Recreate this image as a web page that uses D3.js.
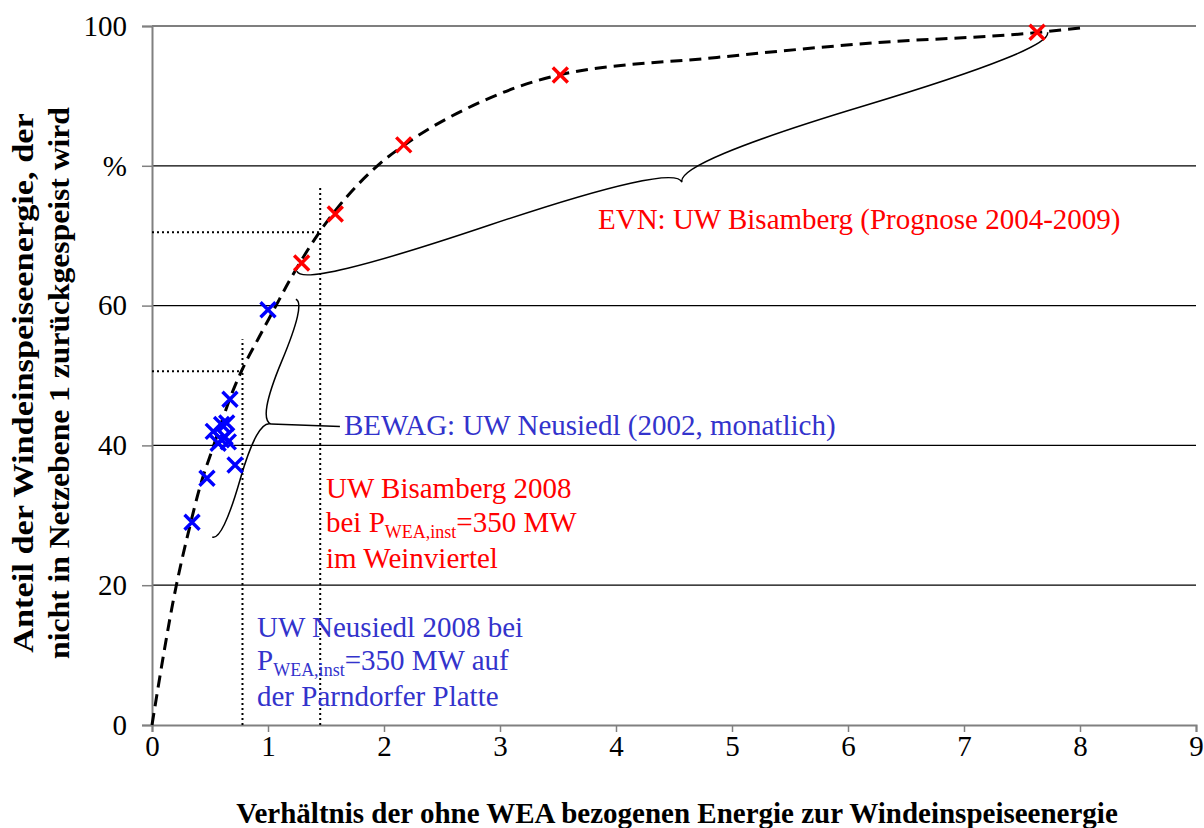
<!DOCTYPE html>
<html>
<head>
<meta charset="utf-8">
<script src="https://cdn.jsdelivr.net/npm/d3@7"></script>
<style>
  html, body { margin: 0; padding: 0; background: #fff; }
  svg { display: block; font-family: "Liberation Serif", "Times New Roman", serif; }
</style>
</head>
<body>
<svg id="chart" width="1204" height="828"></svg>
<script>
// ---------- data ----------
const xTicks = [0, 1, 2, 3, 4, 5, 6, 7, 8, 9];
const yTicks = [0, 20, 40, 60, 80, 100];
const yTickLabels = ["0", "20", "40", "60", "%", "100"];

// BEWAG: UW Neusiedl (2002, monthly)
const bewagX = [0.345, 0.474, 0.716, 0.57, 0.60, 0.658, 0.528, 0.63, 0.644, 0.60, 0.672, 1.00];
const bewagY = [29.0, 35.3, 37.2, 40.3, 40.8, 40.5, 42.0, 41.2, 43.2, 43.0, 46.6, 59.4];

// EVN: UW Bisamberg (Prognose 2004-2009)
const evnX = [1.29, 1.58, 2.17, 3.52, 7.63];
const evnY = [66.1, 73.1, 83.0, 93.0, 99.1];

// dashed trend curve
const curveX = [0, 0.21, 0.32, 0.414, 0.528, 0.70, 0.773, 0.917, 1.05, 1.19, 1.435, 1.95, 2.195, 2.83, 3.51, 4.87, 6.23, 7.59, 8.04];
const curveY = [0, 20, 28, 34.1, 39.8, 47.9, 50.7, 55.3, 59.4, 63.7, 70.3, 80.1, 83.2, 89.1, 93.0, 95.5, 97.6, 99.0, 99.8];

// 2008 reading guides (x ratio, y share, top of vertical guide)
const guideBisamberg = { x: 1.45, y: 70.5, top: 77.0 };
const guideNeusiedl = { x: 0.78, y: 50.6, top: 55.2 };

// brace anchors (data coords)
const evnBrace = { a: [1.25, 64.9], b: [7.72, 99.1] };
const bewagBrace = { a: [0.52, 26.9], b: [1.24, 60.9] };
const bewagLink = [1.62, 42.7];

// ---------- layout ----------
const svg = d3.select("#chart");
const M = { left: 152, right: 1196, top: 26, bottom: 725 };
const x = d3.scaleLinear().domain([0, 9]).range([M.left, M.right]);
const y = d3.scaleLinear().domain([0, 100]).range([M.bottom, M.top]);

const FS = 29;
const red = "#ff0000";
const blueText = "#3333cc";

// gridlines
svg.append("g")
  .selectAll("line")
  .data(yTicks.filter(d => d > 0))
  .join("line")
  .attr("x1", x(0)).attr("x2", x(9))
  .attr("y1", d => y(d)).attr("y2", d => y(d))
  .attr("stroke", "#000").attr("stroke-width", 1.2);

// axes
const yAxis = d3.axisLeft(y).tickValues(yTicks)
  .tickFormat((d, i) => yTickLabels[i]).tickSize(10).tickPadding(15);
const gy = svg.append("g").attr("transform", `translate(${x(0)},0)`).call(yAxis);
gy.select(".domain").attr("stroke", "#808080").attr("stroke-width", 2);
gy.selectAll(".tick line").attr("stroke", "#808080").attr("stroke-width", 1.5);
gy.selectAll(".tick text").attr("font-size", FS).attr("font-family", "Liberation Serif").attr("fill", "#000");

const xAxis = d3.axisBottom(x).tickValues(xTicks).tickSize(7).tickPadding(3);
const gx = svg.append("g").attr("transform", `translate(0,${y(0)})`).call(xAxis);
gx.select(".domain").attr("stroke", "#808080").attr("stroke-width", 2);
gx.selectAll(".tick line").attr("stroke", "#808080").attr("stroke-width", 1.5);
gx.selectAll(".tick text").attr("font-size", FS).attr("font-family", "Liberation Serif").attr("fill", "#000");

// dotted guides
function guide(g) {
  svg.append("line")
    .attr("x1", x(0)).attr("x2", x(g.x)).attr("y1", y(g.y)).attr("y2", y(g.y))
    .attr("stroke", "#000").attr("stroke-width", 2).attr("stroke-dasharray", "2,3");
  svg.append("line")
    .attr("x1", x(g.x)).attr("x2", x(g.x)).attr("y1", y(0)).attr("y2", y(g.top))
    .attr("stroke", "#000").attr("stroke-width", 2).attr("stroke-dasharray", "2,3");
}
guide(guideBisamberg);
guide(guideNeusiedl);

// curly braces
function brace(x1, y1, x2, y2, w, q) {
  let dx = x1 - x2, dy = y1 - y2;
  const len = Math.sqrt(dx * dx + dy * dy);
  dx /= len; dy /= len;
  const qx1 = x1 + q * w * dy, qy1 = y1 - q * w * dx;
  const qx2 = (x1 - .25 * len * dx) + (1 - q) * w * dy, qy2 = (y1 - .25 * len * dy) - (1 - q) * w * dx;
  const tx = (x1 - .5 * len * dx) + w * dy, ty = (y1 - .5 * len * dy) - w * dx;
  const qx3 = x2 + q * w * dy, qy3 = y2 - q * w * dx;
  const qx4 = (x1 - .75 * len * dx) + (1 - q) * w * dy, qy4 = (y1 - .75 * len * dy) - (1 - q) * w * dx;
  return { d: `M${x1},${y1} Q${qx1},${qy1} ${qx2},${qy2} T${tx},${ty} M${x2},${y2} Q${qx3},${qy3} ${qx4},${qy4} T${tx},${ty}`, tip: [tx, ty] };
}
const b1 = brace(x(evnBrace.a[0]), y(evnBrace.a[1]), x(evnBrace.b[0]), y(evnBrace.b[1]), 32, 0.55);
svg.append("path").attr("d", b1.d).attr("fill", "none").attr("stroke", "#000").attr("stroke-width", 1.5);
const b2 = brace(x(bewagBrace.a[0]), y(bewagBrace.a[1]), x(bewagBrace.b[0]), y(bewagBrace.b[1]), 18, 0.6);
svg.append("path").attr("d", b2.d).attr("fill", "none").attr("stroke", "#000").attr("stroke-width", 1.5);
svg.append("line").attr("x1", b2.tip[0]).attr("y1", b2.tip[1])
  .attr("x2", x(bewagLink[0])).attr("y2", y(bewagLink[1])).attr("stroke", "#000").attr("stroke-width", 1.5);

// dashed curve
const line = d3.line().x(d => x(d[0])).y(d => y(d[1])).curve(d3.curveMonotoneX);
svg.append("path")
  .datum(curveX.map((v, i) => [v, curveY[i]]))
  .attr("d", line)
  .attr("fill", "none").attr("stroke", "#000").attr("stroke-width", 3)
  .attr("stroke-dasharray", "12,7");

// markers
function crosses(xs, ys, color) {
  const s = 7.5;
  svg.append("g").selectAll("path")
    .data(xs.map((v, i) => [v, ys[i]]))
    .join("path")
    .attr("d", d => {
      const cx = x(d[0]), cy = y(d[1]);
      return `M${cx - s},${cy - s}L${cx + s},${cy + s}M${cx - s},${cy + s}L${cx + s},${cy - s}`;
    })
    .attr("stroke", color).attr("stroke-width", 3.4).attr("fill", "none");
}
crosses(bewagX, bewagY, "#0000ff");
crosses(evnX, evnY, red);

// annotation labels
function label(px, py, color, pre, sub, post) {
  const t = svg.append("text").attr("x", px).attr("y", py).attr("fill", color).attr("font-size", FS);
  t.append("tspan").text(pre);
  if (sub) {
    t.append("tspan").attr("font-size", 18).attr("dy", 6).text(sub);
    t.append("tspan").attr("dy", -6).text(post);
  }
  return t;
}
label(598, 229, red, "EVN: UW Bisamberg (Prognose 2004-2009)");
label(344, 435, blueText, "BEWAG: UW Neusiedl (2002, monatlich)");

label(326, 498, red, "UW Bisamberg 2008");
label(326, 532, red, "bei P", "WEA,inst", "=350 MW");
label(326, 568, red, "im Weinviertel");

label(257, 637, blueText, "UW Neusiedl 2008 bei");
label(257, 670, blueText, "P", "WEA,inst", "=350 MW auf");
label(257, 706, blueText, "der Parndorfer Platte");

// axis titles
svg.append("text")
  .attr("x", 677).attr("y", 823).attr("text-anchor", "middle")
  .attr("font-size", FS).attr("font-weight", "bold")
  .text("Verhältnis der ohne WEA bezogenen Energie zur Windeinspeiseenergie");

const yTitleLines = ["Anteil der Windeinspeiseenergie, der", "nicht in Netzebene 1 zurückgespeist wird"];
const yTitleLen = [540, 552];
yTitleLines.forEach((s, i) => {
  const t = svg.append("text")
    .attr("text-anchor", "middle").attr("font-size", FS).attr("font-weight", "bold")
    .text(s);
  const w = t.node().getComputedTextLength();
  const k = yTitleLen[i] / w;
  t.attr("transform", `translate(${33 + i * 36},383) rotate(-90) scale(${k},1)`);
});
</script>
</body>
</html>
